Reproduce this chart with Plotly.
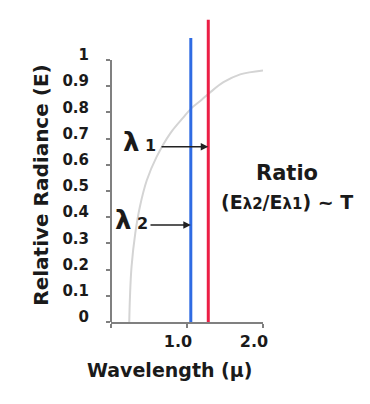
import plotly.graph_objects as go

# Data
curve_x = [0.24, 0.25, 0.27, 0.32, 0.38, 0.47, 0.60, 0.78, 0.95, 1.06, 1.19, 1.30, 1.48, 1.70, 2.00]
curve_y = [0.0, 0.10, 0.21, 0.34, 0.44, 0.54, 0.63, 0.72, 0.78, 0.816, 0.847, 0.875, 0.915, 0.945, 0.96]

lambda2_x = [1.05, 1.05]
lambda2_y = [0.0, 1.084]
lambda1_x = [1.28, 1.28]
lambda1_y = [0.0, 1.153]

y_ticks = [0, 0.1, 0.2, 0.3, 0.4, 0.5, 0.6, 0.7, 0.8, 0.9, 1.0]
y_tick_text = ["0", "0.1", "0.2", "0.3", "0.4", "0.5", "0.6", "0.7", "0.8", "0.9", "1"]
x_ticks = [0, 1, 2]
x_tick_text = ["", "1.0", "2.0"]

arrow1 = dict(tail_x=0.645, head_x=1.28, y=0.669)
arrow2 = dict(tail_x=0.50, head_x=1.05, y=0.37)

FONT = "DejaVu Sans"
TXT = "#1a1a1a"
AXC = "#808080"

fig = go.Figure()
fig.add_trace(go.Scatter(x=curve_x, y=curve_y, mode="lines", line=dict(color="#d4d4d4", width=2, shape="spline"),
                         hoverinfo="skip", showlegend=False))
fig.add_trace(go.Scatter(x=lambda2_x, y=lambda2_y, mode="lines", line=dict(color="#2f6be3", width=3),
                         showlegend=False))
fig.add_trace(go.Scatter(x=lambda1_x, y=lambda1_y, mode="lines", line=dict(color="#ec1e45", width=3),
                         showlegend=False))

# y axis line only up to 1
fig.add_shape(type="line", xref="x domain", yref="y", x0=0, x1=0, y0=0, y1=1.0,
              line=dict(color=AXC, width=2))

for a in (arrow1, arrow2):
    fig.add_annotation(x=a["head_x"], y=a["y"], ax=a["tail_x"], ay=a["y"], axref="x", ayref="y",
                       xref="x", yref="y", text="", showarrow=True, arrowhead=2, arrowsize=1.0,
                       arrowwidth=1.5, arrowcolor="#222222")

lam_font = dict(family=FONT, size=26, color=TXT, weight="bold")
fig.add_annotation(x=0.37, y=0.685, xref="x", yref="y", showarrow=False, xanchor="center", yanchor="middle",
                   text="λ<span style='font-size:16px'> 1</span>", font=lam_font)
fig.add_annotation(x=0.27, y=0.39, xref="x", yref="y", showarrow=False, xanchor="center", yanchor="middle",
                   text="λ<span style='font-size:16px'> 2</span>", font=lam_font)

fig.add_annotation(x=1.158, y=0.49, xref="paper", yref="paper", showarrow=False, xanchor="center",
                   yanchor="middle", text="Ratio",
                   font=dict(family=FONT, size=21, color=TXT, weight="bold"))
fig.add_annotation(x=1.16, y=0.395, xref="paper", yref="paper", showarrow=False, xanchor="center",
                   yanchor="middle",
                   text="(E<span style='font-size:15px'>λ2</span>/E<span style='font-size:15px'>λ1</span>) ~ T",
                   font=dict(family=FONT, size=19, color=TXT, weight="bold"))

fig.add_annotation(x=0.382, y=-0.158, xref="paper", yref="paper", showarrow=False, xanchor="center",
                   yanchor="middle",
                   text="Wavelength (μ)", font=dict(family=FONT, size=19, color=TXT, weight="bold"))
fig.add_annotation(x=-0.457, y=0.45, xref="paper", yref="paper", showarrow=False, textangle=-90,
                   xanchor="center", yanchor="middle",
                   text="Relative Radiance (E)", font=dict(family=FONT, size=20, color=TXT, weight="bold"))

fig.update_layout(
    width=362, height=396,
    margin=dict(l=103, r=107, t=10, b=82, autoexpand=False),
    paper_bgcolor="white", plot_bgcolor="white",
    showlegend=False,
    xaxis=dict(range=[0, 2.0], tickvals=x_ticks, ticktext=x_tick_text, showline=True, linecolor=AXC,
               linewidth=2, ticks="outside", ticklen=4, tickwidth=2, tickcolor=AXC, showgrid=False,
               zeroline=False, ticklabelshift=-9,
               tickfont=dict(family=FONT, size=16, color=TXT, weight="bold"), fixedrange=True),
    yaxis=dict(range=[0, 1.16], tickvals=y_ticks, ticktext=y_tick_text, showline=False,
               ticks="outside", ticklen=4, tickwidth=2, tickcolor=AXC, showgrid=False, zeroline=False,
               ticklabelshift=-5, ticklabelstandoff=14,
               tickfont=dict(family=FONT, size=15, color=TXT, weight="bold"), fixedrange=True),
)

fig.write_html("out.html")
